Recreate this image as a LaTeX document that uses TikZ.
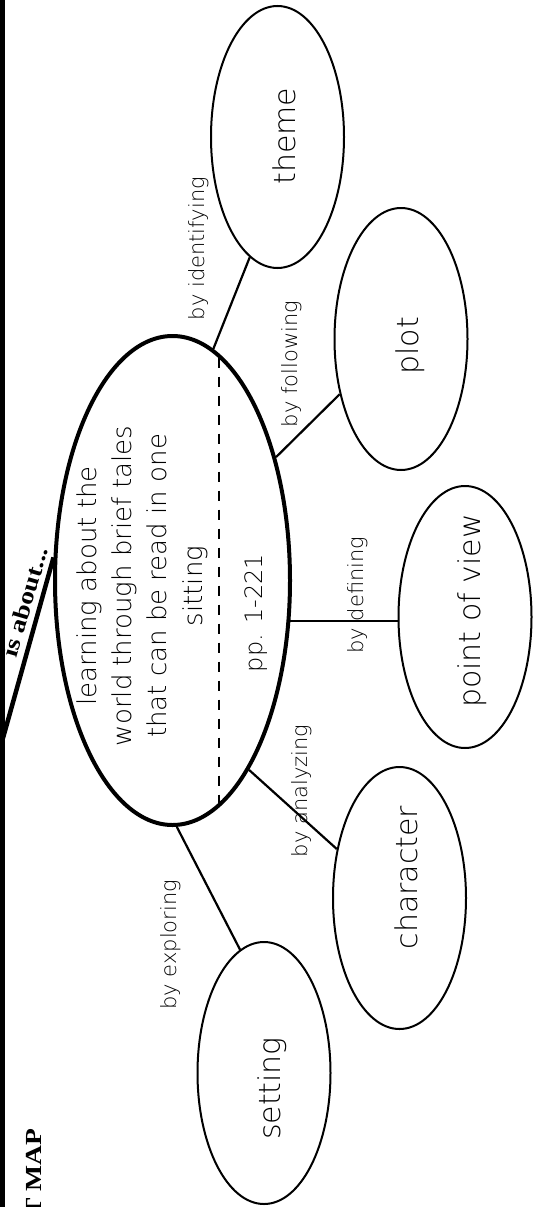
\documentclass[tikz,border=0pt]{standalone}
\usepackage{graphicx}
\usepackage{fontspec}
\setmainfont{Liberation Serif}
\IfFontExistsTF{DejaVuSans-ExtraLight.ttf}
  {\newfontfamily\hand{DejaVuSans-ExtraLight.ttf}}
  {\newfontfamily\hand{DejaVu Sans}}
\usetikzlibrary{shapes.geometric}
\begin{document}
\begin{tikzpicture}[x=1pt,y=-1pt,
  bub/.style={ellipse, draw, line width=2pt, minimum width=133pt, minimum height=262pt, inner sep=0pt},
  mainbub/.style={ellipse, draw, line width=4pt, minimum width=235pt, minimum height=489pt, inner sep=0pt},
  word/.style={rotate=90, inner sep=0pt, font=\hand\fontsize{30}{36}\selectfont},
  lab/.style={rotate=90, inner sep=0pt, font=\hand\fontsize{21}{25}\selectfont},
  link/.style={line width=2.2pt},
  ttl/.style={inner sep=0pt, font=\bfseries\fontsize{23}{27}\selectfont}]
\useasboundingbox (0,0) rectangle (534,1207);
\clip (0,0) rectangle (534,1207);
\fill[white] (0,0) rectangle (534,1207);
% frame rule
\coordinate (rtop) at (2.5,-5);
\coordinate (rbot) at (2.5,1212);
\coordinate (isfoot) at (3,738);
\draw[line width=5pt] (rtop) -- (rbot);
% ellipses
\node[mainbub] (c) at (172.5,580.5) {};
\node[bub] (theme) at (277.5,137) {};
\node[bub] (plot) at (401,339) {};
\node[bub] (pov) at (465,617) {};
\node[bub] (char) at (399.5,898) {};
\node[bub] (set) at (264,1073) {};
% texts in ellipses
\node[word] (ttheme) at (284,136) {theme};
\node[word] (tplot) at (410.5,345.7) {plot};
\node[word] (tpov) at (472,611) {point of view};
\node[word] (tchar) at (406.5,877.5) {character};
\node[word] (tset) at (272.5,1088.5) {setting};
\node[rotate=90, inner sep=0pt, align=center, font=\hand\fontsize{26}{35.3}\selectfont] (tc) at (142,586)
  {learning about the\\world through brief tales\\that can be read in one\\sitting};
\node[rotate=90, inner sep=0pt, font=\hand\fontsize{24}{28}\selectfont] (pp) at (256,613) {pp. 1-221};
\draw[line width=2pt, dash pattern=on 10pt off 9pt] ([shift={(46,-223)}]c.center) -- ([shift={(46,223)}]c.center);
% connectors
\draw[link] (c.80.95) -- (theme.257.3);
\draw[link] (c.50.6) -- (plot.222.8);
\draw[link] (c.-19.7) -- (c.-19.7 -| pov.west);
\draw[link] (c.-68.3) -- (char.142.8);
\draw[link] (c.-89.4) -- (set.101.9);
\draw[line width=4.5pt] (isfoot) -- (c.169);
% labels
\node[lab] (l1) at (198.5,248.6) {by identifying};
\node[lab] (l2) at (292,364) {by following};
\node[lab] (l3) at (357.6,595) {by defining};
\node[lab] (l4) at (302,791) {by analyzing};
\node[lab] (l5) at (171,944.8) {by exploring};
\node[ttl, rotate=73.7] (isab) at (25,602) {\scalebox{1.2}[1]{is about...}};
\node[ttl, rotate=90, anchor=east] (tmap) at (33.5,1128) {\scalebox{1.2}[1]{T MAP}};
\end{tikzpicture}
\end{document}
